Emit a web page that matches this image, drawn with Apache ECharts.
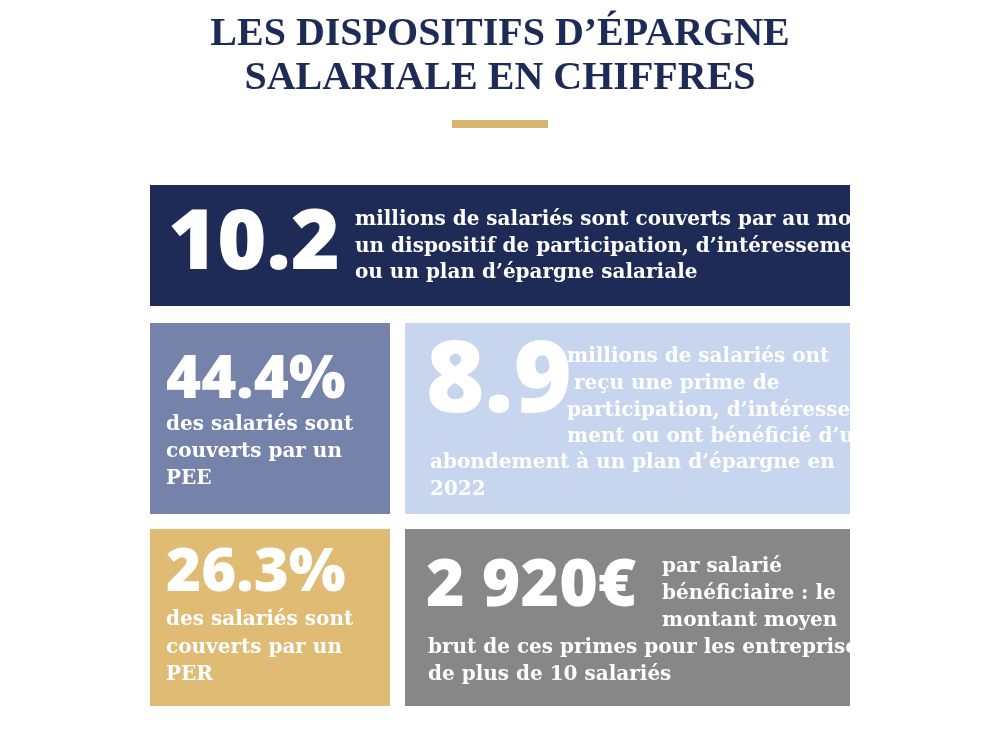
<!DOCTYPE html>
<html><head><meta charset="utf-8">
<script src="https://cdn.jsdelivr.net/npm/echarts@6/dist/echarts.min.js"></script>
<style>html,body{margin:0;background:#fff}#c{width:1000px;height:732px}</style>
</head><body><div id="c"></div>
<script>
const titleLines = ['LES DISPOSITIFS D\u2019ÉPARGNE', 'SALARIALE EN CHIFFRES'];
const figures = ['10.2', '44.4%', '8.9', '26.3%', '2 920€'];
const descriptions = [
  ['millions de salariés sont couverts par au moins', 'un dispositif de participation, d\u2019intéressement', 'ou un plan d\u2019épargne salariale'],
  ['des salariés sont', 'couverts par un', 'PEE'],
  ['millions de salariés ont', ' reçu une prime de', 'participation, d\u2019intéresse-', 'ment ou ont bénéficié d\u2019un', 'abondement à un plan d\u2019épargne en', '2022'],
  ['des salariés sont', 'couverts par un', 'PER'],
  ['par salarié', 'bénéficiaire : le', 'montant moyen', 'brut de ces primes pour les entreprises', 'de plus de 10 salariés']
];
const colors = ['#1f2b57', '#7582aa', '#c7d5ef', '#dfbb73', '#878787'];

// layout of each block: box, figure position/size, text line positions
const layout = [
  {box: [150, 185, 700, 121], fig: [168, 245, 84], lines: [[355, 220], [355, 247], [355, 273]]},
  {box: [150, 323, 240, 191], fig: [166, 381, 60], lines: [[166, 425], [166, 452], [166, 479]]},
  {box: [405, 323, 445, 191], fig: [426, 384, 100], lines: [[567, 357], [567, 384], [567, 411], [567, 437], [430, 463], [430, 490]]},
  {box: [150, 529, 240, 177], fig: [166, 574, 60], lines: [[166, 620], [166, 648], [166, 675]]},
  {box: [405, 529, 445, 177], fig: [426, 587, 66], lines: [[662, 567], [662, 594], [662, 621], [428, 648], [428, 675]]}
];

const els = [];
titleLines.forEach((t, i) => els.push({type: 'text', x: 500, y: 35 + i * 44,
  style: {text: t, fill: '#1f2b57', font: 'bold 40px "Liberation Serif"', textAlign: 'center', textVerticalAlign: 'middle'}}));
els.push({type: 'rect', shape: {x: 452, y: 120, width: 96, height: 8}, style: {fill: '#d8b66f'}});

layout.forEach((l, i) => {
  els.push({type: 'rect', shape: {x: l.box[0], y: l.box[1], width: l.box[2], height: l.box[3]}, style: {fill: colors[i]}});
  els.push({type: 'text', x: l.fig[0], y: l.fig[1], style: {text: figures[i], fill: '#fff',
    font: '800 ' + l.fig[2] + 'px "Open Sans"', textVerticalAlign: 'middle'}});
  descriptions[i].forEach((s, j) => els.push({type: 'text', x: l.lines[j][0], y: l.lines[j][1],
    style: {text: s, fill: '#fff', font: 'bold 20px "DejaVu Serif"', textVerticalAlign: 'middle'}}));
});

const chart = echarts.init(document.getElementById('c'));
chart.setOption({graphic: els});
</script></body></html>
